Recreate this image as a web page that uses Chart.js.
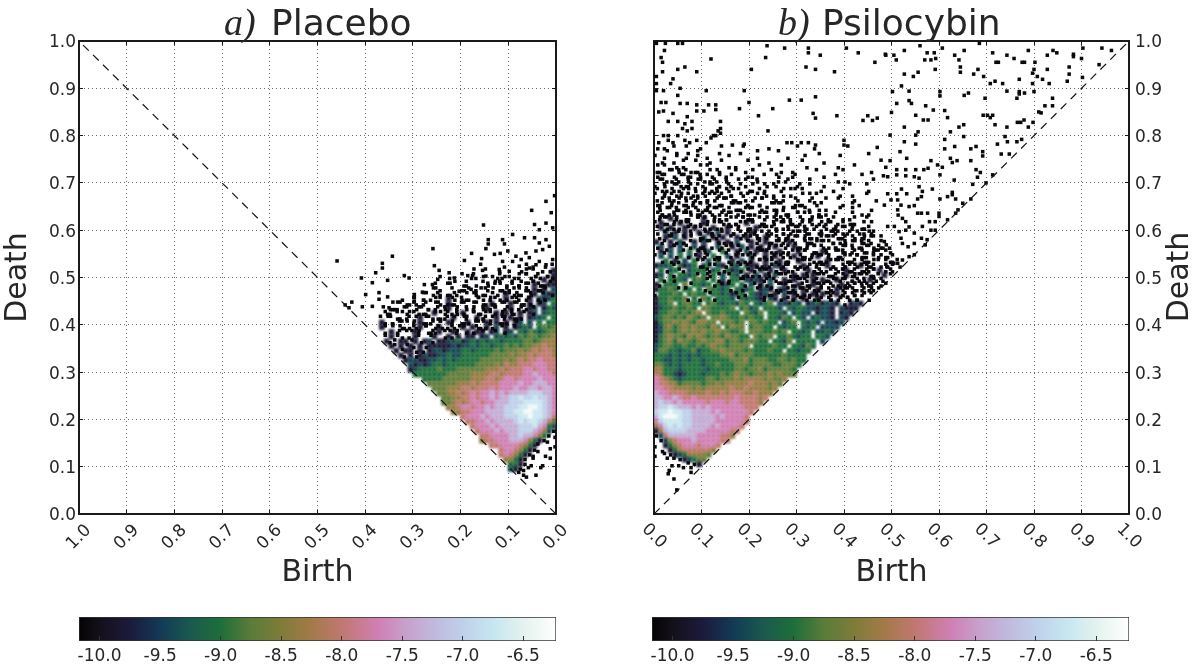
<!DOCTYPE html>
<html><head><meta charset="utf-8">
<style>
html,body{margin:0;padding:0;background:#fff;overflow:hidden}
canvas{position:absolute;display:block}
</style>
<script src="https://cdn.jsdelivr.net/npm/chart.js@4/dist/chart.umd.js"></script>
</head><body>
<canvas id="c1" width="598" height="600" style="left:0;top:0"></canvas>
<canvas id="c2" width="598" height="600" style="left:598px;top:0"></canvas>
<canvas id="c3" width="598" height="66" style="left:0;top:600px"></canvas>
<canvas id="c4" width="598" height="66" style="left:598px;top:600px"></canvas>
<script>
const axisTicks=[0,0.1,0.2,0.3,0.4,0.5,0.6,0.7,0.8,0.9,1.0];
const colourTicks=[-10,-9.5,-9,-8.5,-8,-7.5,-7,-6.5];
const colourRange=[-10.17,-6.23];
const colourValues=[-10.17,-10,-9.75,-9.5,-9.25,-9,-8.75,-8.5,-8.25,-8,-7.7,-7.5,-7.25,-7,-6.75,-6.5,-6.23];
const colourHexes=['#040404','#14101a','#1c1a3c','#123a56','#1a5a4e','#1e6e3a','#5a7c3a','#7f7c38','#a37a48','#c07870','#d07fb4','#c89cc8','#c0b8dc','#bfd0ea','#c6e6f0','#e3f2ee','#ffffff'];
const levelChars='0123456789ab';
const levelValues=[-10.1,-9.8,-9.4,-9.0,-8.7,-8.35,-8.0,-7.7,-7.35,-7.0,-6.7,-6.35];
const dotChars='pqrs';
const dotShiftBirth=[-0.003,0.003,-0.003,0.003];
const dotShiftDeath=[-0.003,-0.003,0.003,0.003];
const rowTop=0.52, psiRowTop=0.77, extraTop=0.50, psiExtraTop=0.72, cellStep=0.01;

const placeboRows=[
"s.p.q.r...q....s",
"1pq.s.rp...q..s..r",
"1q.sp.r..q.s...p..",
"1p1.qr.s.p.qr...s.q..p",
"11qp1s.q.r..s.p...q...r",
"2.1p1qr.sq.p.rs.q..p.s...r",
"212.1p.qrs1.p.q.sr..q.p.s..r",
"3212.1pq.r1.sq.pr.qs.p1..r.q.s..p",
"3.21.1qpr1s.q1.p.r.s.q1.pr.q.s.p..r",
"231.21pq.1r.sq1p.rs.q.1ps.q.rp.s.qp.r",
"332.21.1qp1r1s.qpr.1sq.pr1.q.s.pr.qs.",
"3.3221.1p1qr1.sp1.qr.1s.pq.r1.s.qp.rs.",
"33.3.2.21.1p1q1rs.1p.q1.rs.p1q.rs.pq1",
"4343.2321.1.2.1qp1.1rs.q1p.r1s.qp.rs1",
"44323423.21.21.11p1.q1r.1sp.q1r.sp1q.",
"5443443423232.21.11.1q1p.1r.s1q.pr1s",
"5554344333323323232132211q21p1r11sq1p1",
"556554434343323323221211111p1q1r1s1",
"566565454443433332332221221q1p11r1",
"56665655454444333333223221121p1q1",
"66676656545444443333323232211221",
"6677766655645444433333323321212",
"6677677666565554444443334333321",
"67778776666566555544444333333322",
"777877776776566555444444333333",
"7788877877776666565554444443333",
"78878877877767666566555444433",
"78899988887878776765655443",
"7899a99a9988787767665544",
"789aaaa99988877677656544",
"789abbaa9998878776776554",
"789aabbaa9988887776655",
"689aabaa99988878777665",
"4689aa9a9888878776654",
"2378a99988887877766",
"0257899988878777665",
"p035788988777766",
".q01357888777665",
"p..s1356777766",
".r.q01356776",
"..p.q01356765",
".r..s.01355",
"..q..p0133",
"...r.sq012",
"....p.qs",
"......r"];

const placeboExtraRows=[
".p.q.s.r..p.q...s..r...q",
"r.s.p.q.r.s.p.q..r...s..",
".q.r.s.p.q.r.s..p.q...r.s",
".s.p.q.r.s.p.q.r.s.p...q.r",
"p.r.s.q.p.r.s.q.p.r.s..q.p.r",
".q.p.r.s.q.p.r.s.q.p.r.s.q.p.r",
"..s.q.p.r.s.q.p.r.s.q.p.r.s.q.p.r",
"....r.s.q.p.r.s.q.p.r.s.q.p.r.s.q.p",
"....p.r.s.q.p.r.s.q.p.r.s.q.p.r.s.q",
"......q.p.r.s.q.p.r.s.q.p.r.s.q.p.r",
".......s.q.p.r.s.q.p.r.s.q.p.r.s.q",
"........r.s.q.p.r.s.q.p.r.s.q.p.r",
"..........p.r.s.q.p.r.s.q.p.r.s"];

const placeboDots=[[.021,.661],[.003,.673],[.051,.642],[.01,.637],[.152,.611],[.045,.612],[.021,.615],[.035,.601],[.007,.605],[.091,.591],[.066,.584],[.045,.584],[.035,.573],[.021,.58],[.142,.58],[.142,.571],[.112,.58],[.108,.571],[.147,.561],[.177,.551],[.258,.561],[.129,.549],[.117,.551],[.101,.556],[.084,.545],[.063,.552],[.042,.556],[.028,.559],[.014,.566],[.343,.545],[.364,.53],[.364,.52],[.378,.51],[.192,.536],[.156,.54],[.255,.525],[.245,.515],[.224,.51],[.112,.534],[.091,.534],[.073,.538],[.056,.542],[.035,.534],[.154,.515],[.119,.517],[.098,.513],[.077,.524],[.056,.52],[.042,.527],[.021,.527],[.007,.538],[.185,.504],[.175,.504],[.213,.499],[.147,.503],[.408,.499],[.318,.504],[.308,.499],[.353,.494],[.385,.489],[.248,.496],[.276,.485],[.259,.485],[.371,.468],[.399,.464],[.297,.464],[.28,.469],[.203,.471],[.178,.475],[.227,.462],[.353,.459],[.428,.448],[.406,.438],[.385,.439],[.434,.436],[.371,.454],[.332,.448],[.35,.436],[.297,.45],[.459,.535],[.442,.442]];

const psiRows=[
"q.p.r.s..q....r...s.....p.....r..q......s......",
"..s.q..p.r...q....p..s....r.......q..........p.",
"r.p.s.q..r.p...s.....q......p..s.......r.......",
".q..p.r.s..q..r....s....p......r...q...........s",
"s.r.q.p..s.r...q.p....r...s.....p.....q...r....",
".p.s.r.q.p.s.q...r..s.....q..p....r....s.....q.",
"q.r..s.p.q.r.s.p...q...r.s...p.....q..r....s...",
".s.q.p.r.s.q.p.r.s...q....p.r...s.....q.p.....r",
"p.r.s.qp.r.s.q..p.r.s..q.r....p.s..q.....r..s..",
".q.sp.r.q.s.pr.q.s..p.r...q.s..r...p.q.s.....p.",
"r.p.qs.r.pq.s.r.p.q..s.r.p..q...s.r....p.q..s..",
".s.rp.qs.r.pq.sr.p..q.s..r.p.s..q...r.s...p...q",
"qp.s.rq.ps.r.qp.s.rq..p.s.r..q.p.s.r...q.s.p...",
".rs.qp.rs.qp.r.s.qp.r..s.q.p.r.s..q.p..r.s...q.",
"sq.pr.sq.prs.q.pr.sq.p.r.s.qp.r.s.q.p.r..s.q.p.",
".pr1s.qp.r1.sq.pr.sqp.rs.q.pr.s.qp.r.s.q.pr.s..",
"r1q.p1sr.q1p.srq.pr1s.qp.rs.qp.rs.q.pr.s.qp.rs.",
".1q1p.1r1s.q1.p1rs.qp1.rsq.prs.qp.rs.qp.rs.qpr",
"q.2.1r1q.1s1p2.1q.rs1p.qrs.pq.rsp.qr.spq.rs.pqr",
".p1r2.1s.q2.1p1.r1s1.qp1rs.qp.rsqp.rs.qprs.qp.rs",
"1.r1q2p.1s2r.1q1p2.s1.r1qs.p1r.sqp.rsq.prs.qpr.s",
"q2.1r2s.2q1.p2.r1s2.1q1.p1s.r1q.ps.rq.psrq.psr.qp",
".1p2.2r3.1q2.s3p.1r2.1s1q.1p.r1s.qp1r.sqp.rsq.prsq",
"r2.2q3.2s1.r3q.2p1.s2r.1q1.pr1sq.p1rs.qpr.sqp.rsqpr",
".q3.1p2.3r.2s3.q1.2p1.r1s.1qp.1rs.qp1rs.qprsqp.rsqpr",
"1223r3123q23s21p32r211q1s21pr.q1s.pr1q.sprq1sprqsprqs",
".3q23.p2333r23q3123s1p2r1qs1.pr.1qsp.rqs1prqspr1qsprq",
"12.3p3323r3q3.2s32q1q2p1r2s.q1p1r1s.qprs1qprsqpr1sqprs",
".3p3332.343r3.2q33s2121p2r.1q1s.p1r1qs1prqspr1qsprqspr",
"1p333.4s3323q3123.3p2r1q2.s1.p1rq1sp.rq1sprqsprqsprq",
"13343r33.3q43323p3223s121q21r2s1pq1rsp1qrspqrspqr",
"p33343.3433s3323123p3212q1r2s1p1q1r1sp1qrspqr",
"1334334p3.43q3332s32321p21q1r1s1pq1rspqrspq",
"1334.34433.343233243.3234.22132.1231221.p1211q111.1",
"123343343.4433334.3423.3332.3233221221.2111q11111",
"1334434345.4334333.4324.3332.2322.1221.1211.1211",
"23443435434.44543343433.33243.32.23221.2112.111211",
"1344545435544.44434.443433.234.3232.2212.1121111",
"12453454544354.3544.34433.3233.323.2222.1211211",
"1244345454544544334.44433434.3323.22322.21121",
"13454435454344354433.4344.3343233.3322.2212111",
"134535443454455344344433.3324.3333.2322.211",
"23443343343454434444.3333433.33243.3222.21",
"244332334233445444434333433.33233.3322321.1",
"33323232323333445344433333343333.33232211",
"3322323233233333444534443344343333321",
"4432323333233433344434444334443443",
"553332333332333334434453444443443",
"65332123332333434544344454544433433",
"76543233333443444545555454454333",
"76655344443445455555655545444333",
"7766555545455555655655554544333",
"8776666555565565666556555543333",
"88778766766666666766665655543",
"89887877777677767766665655443",
"899a98887878777777766665544",
"9aabaa99888878777777666544",
"8abbba998888878777766654",
"79aaaa9988888777777665",
"579a9a9988887877776654",
"1589999888877777665",
"026888888777776654",
".0256777877777665",
"p.135677767776",
".q.13566666655",
"p.r0123555543",
"..s.r012344533",
"...q.p.r01234",
"...p..rs.q12",
".......s.p"];

const psiExtraRows=[
"p.s.q.r.p...s.....q.....r......",
".r.q.s.p.r.q...s....p....q...r...",
"s.p.r.q.s.p.r.q...s..r.....p.....",
".q.s.p.r.q.s.p.r..q...s..p....r..",
"r.p.q.s.r.p.q.s.r...p.q...s..r...",
".s.r.p.q.s.r.p.q.s.r...p..q...s..",
"p.q.s.r.p.q.s.r.p.q.s.r..p...q..s",
".r.p.q.s.r.p.q.s.r.p.q..s.r...p..q",
"q.s.r.p.q.s.r.p.q.s.r.p.q.s..r..p.",
".p.q.s.r.p.q.s.r.p.q.s.r.p.q.s.r..p",
"s.r.p.q.s.r.p.q.s.r.p.q.s.r.p.q.s.r.p",
".q.s.r.p..s.r.p.q.s.r.p.q.s.r.p.q.s.r.p.q",
"r...q.s.r.p.q..r.p.q.s.r.p.q.s.r.p.q.s.r.p.q",
".s.p...r.p.q.s..p.q.s.r.p.q.s.r.p.q.s.r.p.q.s",
"...r.s...q.s.r...q.s.r.p.q.s.r.p.q.s.r.p.q.s.r",
".p...q.r...r.p.q...r.p.q.s.r.p.q.s.r.p.q.s.r.p",
"...s...p.q...q.s.r.p.q.s.r.p.q.s.r.p.q.s.r.p.qs",
"..r.....s.r....r.p.q.s.r.p.q.s.r.p.q.s.r.p.q.sr",
"......q...p.q...s.r.p.q.s.r.p.q.s.r.p.q.s.r.p.q",
"...p.....s...r...p.q.s.r.p.q.s.r.p.q.s.r.p.q.s.",
".........q.r...s...r.p.q.s.r.p.q.s.r.p.q.s.r.p.",
"....s......p.....q...s.r.p.q.s.r.p.q.s.r.p.q.s.",
"..........s..r.....p...q.s.r.p.q.s.r.p.q.s.r.p.",
"...q.........p...s.....r.p.q.s.r.p.q.s.r.p.q.s.",
".............s.r.....q...s.r.p.q.s.r.p.q.s.r.p.",
"......r...........p.....r.p.q.s.r.p.q.s.r.p.q.s",
"................s......q...s.r.p.q.s.r.p.q.s.r.",
".........p............s.....q.s.r.p.q.s.r.p.q.s"];

const psiDots=[[.005,.995],[.024,.995],[.05,.995],[.06,.995],[.238,.99],[.275,.985],[.325,.985],[.325,.975],[.405,.985],[.022,.98],[.015,.965],[.018,.955],[.35,.97],[.43,.975],[.487,.972],[.12,.962],[.235,.965],[.465,.955],[.32,.945],[.34,.94],[.38,.935],[.205,.94],[.05,.94],[.065,.945],[.09,.935],[.018,.935],[.005,.925],[.04,.92],[.035,.91],[.005,.91],[.055,.9],[.02,.895],[.005,.895],[.11,.895],[.19,.895],[.05,.885],[.285,.875],[.31,.875],[.34,.882],[.2,.87],[.015,.87],[.025,.87],[.055,.868],[.07,.868],[.09,.865],[.115,.865],[.13,.865],[.18,.857],[.25,.857],[.13,.855],[.01,.85],[.02,.852],[.04,.847],[.07,.84],[.09,.852],[.105,.852],[.22,.842],[.335,.847],[.34,.837],[.385,.842],[.44,.832],[.45,.842],[.46,.832],[.47,.837],[.03,.83],[.05,.83],[.065,.825],[.08,.83],[.14,.83],[.06,.815],[.07,.81],[.08,.815],[.24,.81],[.135,.81],[.14,.815],[.02,.8],[.03,.8],[.05,.8],[.12,.795],[.125,.8],[.13,.8],[.14,.805],[.4,.79],[.01,.785],[.03,.79],[.04,.785],[.065,.79],[.075,.785],[.09,.79],[.11,.785],[.165,.78],[.19,.782],[.28,.785],[.29,.785],[.31,.785],[.325,.785],[.34,.78],[.4,.78],[.47,.775],
[.488,.97],[.505,.97],[.51,.96],[.527,.98],[.56,.99],[.575,.975],[.59,.975],[.593,.963],[.57,.96],[.583,.96],[.607,.985],[.633,.97],[.653,.98],[.685,.995],[.642,.96],[.713,.975],[.743,.97],[.758,.963],[.72,.955],[.725,.955],[.775,.955],[.78,.955],[.802,.955],[.788,.98],[.828,.97],[.84,.98],[.848,.975],[.883,.967],[.883,.972],[.9,.963],[.903,.985],[.943,.985],[.963,.98],[.937,.95],
[.527,.93],[.556,.934],[.546,.925],[.592,.94],[.645,.945],[.645,.934],[.673,.93],[.682,.94],[.694,.925],[.708,.91],[.718,.915],[.734,.91],[.769,.919],[.8,.94],[.797,.932],[.797,.91],[.807,.925],[.818,.919],[.828,.94],[.832,.91],[.874,.945],[.874,.93],[.87,.915],[.902,.923],
[.521,.905],[.502,.893],[.537,.894],[.602,.893],[.602,.884],[.653,.885],[.662,.89],[.743,.894],[.769,.893],[.769,.888],[.78,.89],[.8,.893],[.764,.879],[.839,.879],
[.511,.868],[.537,.874],[.542,.868],[.572,.863],[.588,.854],[.612,.853],[.697,.879],[.81,.85],[.815,.848],[.823,.863],[.839,.863],
[.5,.849],[.551,.843],[.567,.833],[.577,.833],[.618,.838],[.693,.843],[.702,.843],[.708,.838],[.713,.843],[.718,.823],[.765,.828],[.772,.828],[.779,.833],[.798,.828],[.788,.818],[.743,.818],
[.527,.818],[.642,.818],[.652,.823],[.624,.808],[.551,.801],[.556,.808],[.497,.801],[.527,.787],[.612,.792],[.652,.798],[.739,.798],[.744,.787],[.764,.787],[.774,.792],[.551,.782],[.633,.777],[.612,.772],[.667,.772],[.678,.777],[.723,.782],[.692,.766],[.692,.757],[.731,.761],[.748,.761],[.518,.766],[.532,.752],
[.497,.747],[.583,.747],[.624,.752],[.628,.743],[.638,.747],[.667,.747],[.488,.733],[.511,.728],[.53,.728],[.551,.728],[.568,.728],[.577,.731],[.597,.738],[.607,.733],[.678,.728],[.687,.722],[.713,.717],
[.483,.715],[.492,.713],[.511,.717],[.53,.715],[.548,.713],[.558,.71],[.602,.717],[.681,.712],[.632,.706],[.671,.697],[.699,.7],
[.558,.692],[.586,.687],[.521,.687],[.511,.677],[.532,.677],[.565,.682],[.563,.671],[.492,.677],[.628,.68],[.618,.671],[.628,.675],[.602,.666],[.635,.666],[.667,.666],[.513,.664],[.499,.664],[.555,.666],[.485,.653],[.52,.653],[.537,.65],[.548,.652],[.513,.643],[.65,.657],[.64,.643],[.635,.636],[.576,.636],[.555,.636],[.563,.636],[.514,.632],[.523,.625],[.53,.618],[.537,.607],[.6,.636],[.6,.629],[.618,.622],[.592,.618],[.58,.618],[.565,.608],[.583,.6],[.592,.6],
[.492,.608],[.506,.608],[.516,.597],[.53,.6],[.548,.594],[.563,.583],[.575,.58],[.548,.572],[.52,.583],[.523,.572],[.535,.565],[.571,.569],[.489,.569],[.485,.576],[.496,.562],[.548,.548],[.537,.544],[.523,.537],[.513,.53],[.49,.523],[.505,.53],[.048,.051],[.042,.074],[.03,.085]];

const titles=[['a)',' Placebo'],['b)',' Psilocybin']];
const labels={birth:'Birth',death:'Death'};

const TXT='#262626', LINE='#1a1a1a', SANS='"DejaVu Sans"';
function hexRgb(h){return [1,3,5].map(i=>parseInt(h.substr(i,2),16));}
function colourOf(v){
  for(let i=1;i<colourValues.length;i++){
    if(v<=colourValues[i]){
      const t=(v-colourValues[i-1])/(colourValues[i]-colourValues[i-1]);
      const a=hexRgb(colourHexes[i-1]),b=hexRgb(colourHexes[i]);
      return 'rgb('+a.map((c,k)=>Math.round(c+(b[k]-c)*t)).join(',')+')';
    }
  }
  return colourHexes[colourHexes.length-1];
}
function cellsFrom(rows,top,shift){
  const cells=[],dots=[];
  rows.forEach((row,r)=>{
    const d=top-r*cellStep;
    [...row].forEach((ch,i)=>{
      const k=levelChars.indexOf(ch), m=dotChars.indexOf(ch);
      const b=cellStep/2+i*cellStep+shift;
      if(b>=d+cellStep/2) return;
      if(k===0) dots.push({x:b,y:d+cellStep/2});
      else if(k>0) cells.push({x:b,y:d+cellStep/2,v:levelValues[k]});
      else if(m>=0) dots.push({x:b+dotShiftBirth[m],y:d+cellStep/2+dotShiftDeath[m]});
    });
  });
  return {cells,dots};
}
function dotsFrom(list){return list.map(p=>({x:p[0],y:p[1]}));}

const softPlugin={id:'soft',
  beforeDatasetDraw(c,a){c.ctx.filter=a.index===2?'blur(0.8px)':a.index===1?'blur(0.4px)':'none';},
  afterDatasetDraw(c){c.ctx.filter='none';}};
const textPlugin={id:'panelText',
  afterDraw(c,a,o){
    const g=c.ctx;g.save();g.fillStyle=TXT;g.textBaseline='alphabetic';
    g.font='italic 38px "Liberation Serif"';g.textAlign='left';g.fillText(o.title[0],o.x0,35);
    g.font='36px '+SANS;g.fillText(o.title[1].trim(),o.x1,35);
    if(o.sideX){g.translate(o.sideX,277);g.rotate(-Math.PI/2);g.font='30px '+SANS;g.textAlign='center';g.textBaseline='middle';g.fillText(o.side,0,0);}
    g.restore();
  }};
function centreTicks(s){s._getXAxisLabelAlignment=()=>'center';}
function nudgeLabels(s,dy){
  if(s._nudged) return; s._nudged=true;
  const f=s._computeLabelItems;
  s._computeLabelItems=function(ca){const it=f.call(this,ca);it.forEach(i=>{i.options.translation[1]+=dy;});return it;};
}

function panel(id,rows,top,extra,extraAt,dots,flip,title,cfg){
  const gridOpt={color:'#6a6a6a',lineWidth:1,tickColor:LINE,tickLength:-4,drawOnChartArea:true};
  const border={color:LINE,width:2,dash:[1,3]};
  const tickFont={family:SANS,size:17};
  const scaleBase={type:'linear',min:0,max:1};
  const fixed=v=>v.toFixed(1);
  const built=cellsFrom(rows,top,0);
  const added=cellsFrom(extra,extraAt,cellStep/2);
  return new Chart(document.getElementById(id),{
    type:'scatter',
    plugins:[softPlugin,textPlugin],
    data:{datasets:[
      {showLine:true,data:[{x:axisTicks[0],y:axisTicks[0]},{x:axisTicks[10],y:axisTicks[10]}],borderColor:'#111',borderWidth:1.2,borderDash:[8,6],pointRadius:0},
      {data:built.dots.concat(added.dots,dotsFrom(dots)),showLine:false,borderWidth:0,backgroundColor:colourOf(levelValues[0]),pointStyle:'rect',pointRadius:2.5},
      {data:built.cells,showLine:false,borderWidth:0,
       backgroundColor:c=>c.raw?colourOf(c.raw.v):'#000',
       pointStyle:'rect',pointRadius:4}
    ]},
    options:{responsive:false,animation:false,devicePixelRatio:1,
      layout:{padding:cfg.pad},
      plugins:{legend:{display:false},tooltip:{enabled:false},title:{display:false},
        panelText:{title,x0:cfg.x0,x1:cfg.x1,side:labels.death,sideX:cfg.sideX}},
      scales:{
        x:{...scaleBase,reverse:flip,position:'bottom',
          afterBuildTicks(s){s.ticks=axisTicks.map(v=>({value:v}));},
          afterFit(s){s.height=86;centreTicks(s);},
          grid:gridOpt,border,
          title:{display:true,text:labels.birth,color:TXT,font:{family:SANS,size:30},padding:{top:0,bottom:9}},
          ticks:{color:TXT,font:tickFont,autoSkip:false,minRotation:flip?45:-45,maxRotation:flip?45:-45,padding:cfg.tickPad,callback:fixed}},
        y:{...scaleBase,position:cfg.yPos,
          afterBuildTicks(s){s.ticks=axisTicks.map(v=>({value:v}));},
          afterFit(s){s.width=cfg.yWidth;nudgeLabels(s,2);},
          grid:gridOpt,border,
          title:{display:cfg.yPos==='left',text:labels.death,color:TXT,font:{family:SANS,size:30},padding:{top:0,bottom:15}},
          ticks:{color:TXT,font:tickFont,padding:cfg.yPad,callback:fixed}},
        x2:{...scaleBase,reverse:flip,position:'top',
          afterBuildTicks(s){s.ticks=axisTicks.map(v=>({value:v}));},
          afterFit(s){s.height=0;},
          grid:{drawOnChartArea:false,tickColor:LINE,tickLength:-4},border:{color:LINE,width:2},ticks:{display:false}},
        y2:{...scaleBase,position:cfg.yPos==='left'?'right':'left',
          afterBuildTicks(s){s.ticks=axisTicks.map(v=>({value:v}));},
          afterFit(s){s.width=0;},
          grid:{drawOnChartArea:false,tickColor:LINE,tickLength:-4},border:{color:LINE,width:2},ticks:{display:false}}
      }}
  });
}
function colourbar(id,pad){
  return new Chart(document.getElementById(id),{
    type:'bar',
    data:{labels:['density'],datasets:[{data:[colourRange],barPercentage:1,categoryPercentage:1,borderWidth:1,borderColor:'#333',borderSkipped:false,
      backgroundColor(c){
        const ca=c.chart.chartArea;if(!ca)return '#888';
        const sx=c.chart.scales.x;
        const g=c.chart.ctx.createLinearGradient(sx.left,0,sx.right,0);
        colourValues.forEach((v,i)=>g.addColorStop(Math.min(1,Math.max(0,(v-colourRange[0])/(colourRange[1]-colourRange[0]))),colourHexes[i]));
        return g;
      }}]},
    options:{indexAxis:'y',responsive:false,animation:false,devicePixelRatio:1,
      layout:{padding:{top:17,left:pad[0],right:pad[1],bottom:0}},
      plugins:{legend:{display:false},tooltip:{enabled:false}},
      scales:{
        y:{display:false},
        x:{type:'linear',min:colourRange[0],max:colourRange[1],
          afterBuildTicks(s){s.ticks=colourTicks.map(v=>({value:v}));},
          afterFit(s){s.height=25;},
          grid:{drawOnChartArea:false,tickColor:'#333',tickLength:-5,z:1},border:{display:false},
          ticks:{color:TXT,font:{family:SANS,size:17},padding:10,maxRotation:0,minRotation:0,autoSkip:false,callback:v=>v.toFixed(1)}}
      }}
  });
}
panel('c1',placeboRows,rowTop,placeboExtraRows,extraTop,placeboDots,true,titles[0],{pad:{top:41,right:42,left:0,bottom:0},yPos:'left',yWidth:79,yPad:7,tickPad:20,x0:224,x1:271});
panel('c2',psiRows,psiRowTop,psiExtraRows,psiExtraTop,psiDots,false,titles[1],{pad:{top:41,right:0,left:56,bottom:0},yPos:'right',yWidth:67,yPad:10,tickPad:19,x0:180,x1:224,sideX:582});
colourbar('c3',[79,42]);
colourbar('c4',[54,67]);
</script>
</body></html>
